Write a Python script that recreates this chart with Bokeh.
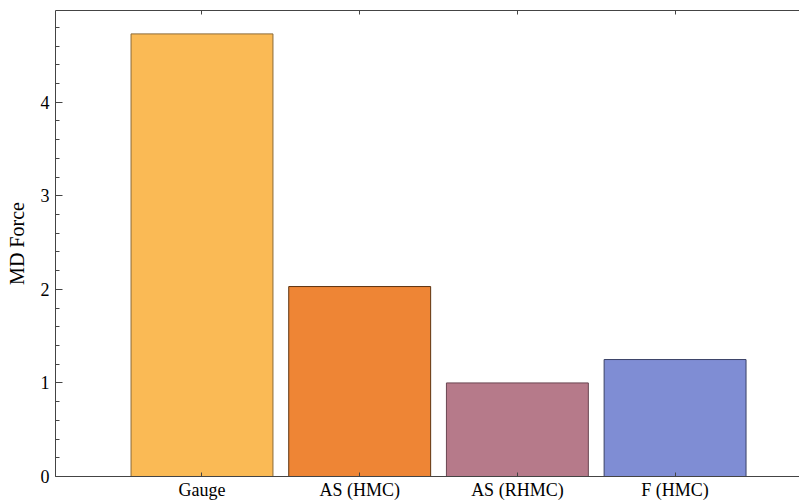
from bokeh.plotting import figure
from bokeh.models import (ColumnDataSource, Range1d, LinearAxis, FixedTicker,
                          SingleIntervalTicker, CustomLabelingPolicy)
from bokeh.embed import file_html
from bokeh.resources import INLINE

# ---- data ----
categories = ["Gauge", "AS (HMC)", "AS (RHMC)", "F (HMC)"]
md_force = [4.73, 2.03, 1.00, 1.25]
fill_colors = ["#FABA55", "#EE8535", "#B67A8A", "#7F8DD4"]
line_colors = ["#8C6A36", "#5E3410", "#6A4652", "#3A4266"]

xs = list(range(1, len(categories) + 1))
src = ColumnDataSource(dict(x=xs, top=md_force, fill=fill_colors, line=line_colors))

FONT = "Liberation Serif"
AX = "#444444"

p = figure(width=799, height=502, output_backend="svg", toolbar_location=None,
           x_range=Range1d(0.071, 4.789), y_range=Range1d(0, 4.98),
           x_axis_location=None, y_axis_location=None,
           min_border_left=55, min_border_right=0, min_border_top=10,
           min_border_bottom=26)
p.outline_line_color = None
p.xgrid.visible = False
p.ygrid.visible = False

p.vbar(x="x", top="top", width=0.9, bottom=0, source=src,
       fill_color="fill", line_color="line", line_width=1)

# left axis
ya = LinearAxis(ticker=SingleIntervalTicker(interval=1, num_minor_ticks=5))
ya.major_tick_in = 7
ya.major_tick_out = 0
ya.minor_tick_in = 4
ya.minor_tick_out = 0
ya.axis_label = "MD Force"
ya.axis_label_text_font = FONT
ya.axis_label_text_font_style = "normal"
ya.axis_label_text_font_size = "20px"
ya.axis_label_text_color = "black"
ya.axis_label_standoff = 10
ya.major_label_text_font = FONT
ya.major_label_text_font_size = "18px"
ya.major_label_text_color = "black"
ya.major_label_standoff = 6
ya.axis_line_color = AX
ya.major_tick_line_color = AX
ya.minor_tick_line_color = AX
p.add_layout(ya, "left")

# bottom axis
xa = LinearAxis(ticker=FixedTicker(ticks=xs))
xa.major_label_overrides = {x: c for x, c in zip(xs, categories)}
xa.major_tick_in = 4
xa.major_tick_out = 0
xa.minor_tick_line_color = None
xa.major_label_text_font = FONT
xa.major_label_text_font_size = "18px"
xa.major_label_text_color = "black"
xa.major_label_standoff = 3
xa.axis_line_color = AX
xa.major_tick_line_color = AX
p.add_layout(xa, "below")

# top axis (frame with ticks, labels hidden)
ta = LinearAxis(ticker=FixedTicker(ticks=xs))
ta.major_tick_in = 4
ta.major_tick_out = 0
ta.minor_tick_line_color = None
ta.major_label_text_font_size = "1px"
ta.major_label_standoff = 0
ta.major_label_policy = CustomLabelingPolicy(code="""
    const all = [...indices]
    for (const i of all) indices.unset(i)
    return indices
""")
ta.axis_line_color = AX
ta.major_tick_line_color = AX
p.add_layout(ta, "above")

open("out.html", "w").write(file_html(p, INLINE))
